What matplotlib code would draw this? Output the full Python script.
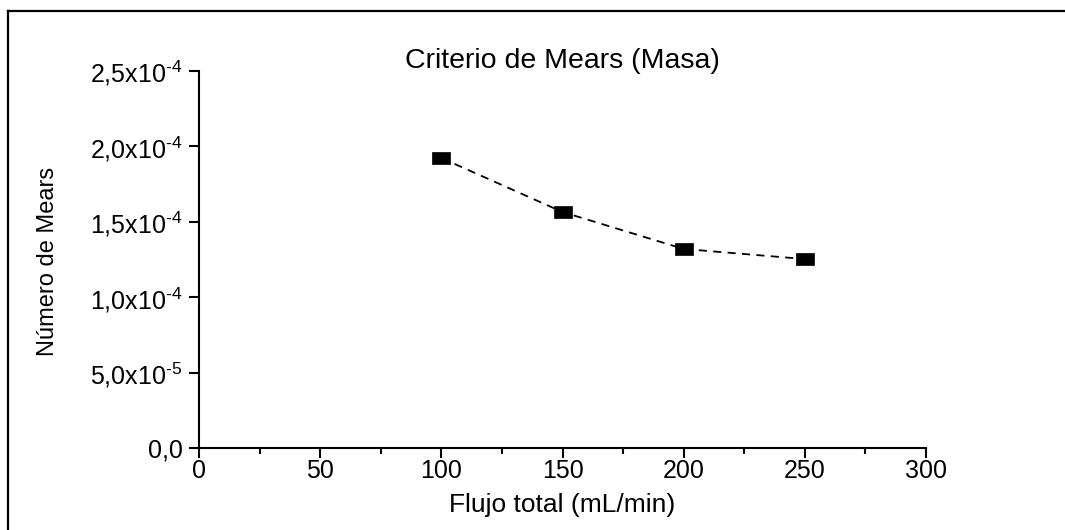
import matplotlib
matplotlib.use('Agg')
import matplotlib.pyplot as plt
from matplotlib.ticker import MultipleLocator, FuncFormatter
from matplotlib.lines import Line2D

# flujo total (mL/min) vs numero de Mears
flujo = [100, 150, 200, 250]
mears = [1.923e-4, 1.565e-4, 1.320e-4, 1.253e-4]

titulo = 'Criterio de Mears (Masa)'
xlabel = 'Flujo total (mL/min)'
ylabel = 'Número de Mears'

plt.rcParams['font.family'] = ['Liberation Sans', 'DejaVu Sans']
plt.rcParams['mathtext.fontset'] = 'custom'
plt.rcParams['mathtext.rm'] = 'Liberation Sans'
plt.rcParams['mathtext.it'] = 'Liberation Sans'


def ytick_fmt(v, pos):
    if abs(v) < 1e-12:
        return '0,0'
    exp = 0
    m = v
    while abs(m) < 1:
        m = m * 10
        exp = exp - 1
    # guion corto en el exponente
    return ('%.1f' % m).replace('.', ',') + 'x10$^{\u2010%d}$' % abs(exp)


fig = plt.figure(figsize=(10.65, 5.3), dpi=100)
ax = fig.add_axes([0.1869, 0.1547, 0.6826, 0.7113])

# marcador rectangular (ancho > alto)
rect = [(-1.5, -1), (1.5, -1), (1.5, 1), (-1.5, 1), (-1.5, -1)]
ax.plot(flujo, mears, color='black', linestyle=(0, (4.5, 3.5)), linewidth=1.3)
ax.plot(flujo, mears, linestyle='none', marker=rect, markersize=12.5,
        color='black', markeredgewidth=0.5)

ax.set_xlim(0, 300)
ax.set_ylim(0, 2.5e-4)
ax.xaxis.set_major_locator(MultipleLocator(50))
ax.xaxis.set_minor_locator(MultipleLocator(25))
ax.yaxis.set_major_locator(MultipleLocator(5e-5))
ax.yaxis.set_major_formatter(FuncFormatter(ytick_fmt))

ax.spines['top'].set_visible(False)
ax.spines['right'].set_visible(False)
ax.spines['left'].set_linewidth(1.5)
ax.spines['bottom'].set_linewidth(1.5)
ax.tick_params(which='major', direction='out', length=7, width=1.5,
               labelsize=18, pad=1)
ax.tick_params(which='minor', direction='out', length=4, width=1.5)
ax.tick_params(axis='y', which='major', pad=5)

fig.text(0.528, 0.885, titulo, ha='center', va='center', fontsize=20.5)
fig.text(0.528, 0.047, xlabel, ha='center', va='center', fontsize=19)
fig.text(0.045, 0.506, ylabel, ha='center', va='center', rotation=90,
         fontsize=17)

# marco superior e izquierdo
fig.add_artist(Line2D([0.0075, 1.0], [0.979, 0.979], transform=fig.transFigure,
                      color='black', linewidth=1.6))
fig.add_artist(Line2D([0.0075, 0.0075], [0.0, 0.979], transform=fig.transFigure,
                      color='black', linewidth=1.6))

fig.savefig('out.png', dpi=100, facecolor='white')
